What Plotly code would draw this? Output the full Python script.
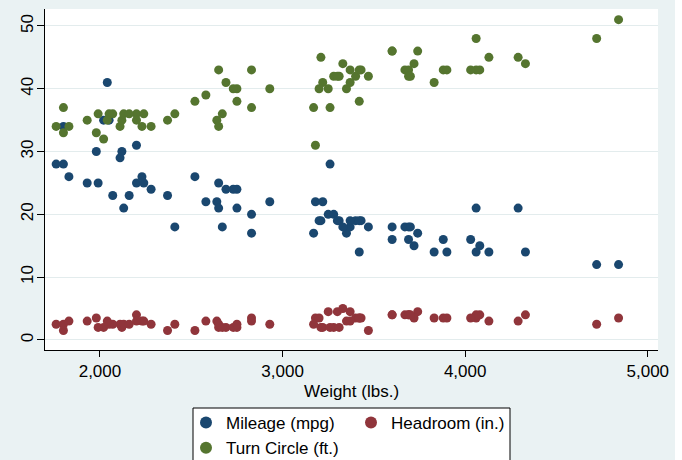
import plotly.graph_objects as go

# auto.dta: weight, mpg, headroom, turn
weight = [2930, 3350, 2640, 3250, 4080, 3670, 2230, 3280, 3880, 3400,
          4330, 3900, 4290, 2110, 3690, 3180, 3220, 2750, 3430, 2120,
          3600, 3600, 3740, 1800, 2650, 4840, 4720, 3830, 2580, 4060,
          3720, 3370, 4130, 2830, 4060, 3310, 3300, 3690, 3370, 2730,
          4030, 3260, 1800, 2200, 2520, 3330, 3700, 3470, 3210, 3200,
          3420, 2690, 2830, 2070, 2650, 2370, 2020, 2280, 2750, 2130,
          2240, 1760, 1980, 3420, 1830, 2050, 2410, 2200, 2670, 2160,
          2040, 1930, 1990, 3170]
mpg = [22, 17, 22, 20, 15, 18, 26, 20, 16, 19,
       14, 14, 21, 29, 16, 22, 22, 24, 19, 30,
       18, 16, 17, 28, 21, 12, 12, 14, 22, 14,
       15, 18, 14, 20, 21, 19, 19, 18, 19, 24,
       16, 28, 34, 25, 26, 18, 18, 18, 19, 19,
       19, 24, 17, 23, 25, 23, 35, 24, 21, 21,
       25, 28, 30, 14, 26, 35, 18, 31, 18, 23,
       41, 25, 25, 17]
headroom = [2.5, 3.0, 3.0, 4.5, 4.0, 4.0, 3.0, 2.0, 3.5, 3.5,
            4.0, 3.5, 3.0, 2.5, 4.0, 3.5, 2.0, 2.0, 3.5, 2.0,
            4.0, 4.0, 4.5, 1.5, 2.0, 3.5, 2.5, 3.5, 3.0, 3.5,
            3.5, 3.0, 3.0, 3.5, 4.0, 2.0, 4.5, 4.0, 4.5, 2.0,
            3.5, 2.0, 2.5, 4.0, 1.5, 5.0, 4.0, 1.5, 2.0, 3.5,
            3.5, 2.0, 3.0, 2.5, 2.5, 1.5, 2.0, 2.5, 2.5, 2.5,
            3.0, 2.5, 3.5, 3.5, 3.0, 2.5, 2.5, 3.0, 2.0, 2.5,
            3.0, 3.0, 2.0, 2.5]
turn = [40, 40, 35, 40, 43, 43, 34, 42, 43, 42,
        44, 43, 45, 34, 43, 31, 41, 40, 43, 35,
        46, 46, 46, 33, 43, 51, 48, 41, 39, 48,
        44, 41, 45, 43, 43, 42, 42, 42, 43, 40,
        43, 37, 37, 36, 38, 44, 42, 42, 45, 40,
        43, 41, 37, 36, 34, 35, 32, 34, 38, 36,
        36, 34, 33, 38, 34, 36, 36, 35, 36, 36,
        35, 35, 36, 37]

x_ticks = [2000, 3000, 4000, 5000]
y_ticks = [0, 10, 20, 30, 40, 50]

BG = '#eaf2f3'
FONT = 'Liberation Sans, Arial, sans-serif'

# plot area in pixels (for paper-coordinate placement)
W, H = 682, 460
L, R, T, B = 45, 24, 9, 110
pw, ph = W - L - R, H - T - B


def px_x(p):
    return (p - L) / pw


def px_y(p):
    return (H - B - p) / ph


fig = go.Figure()

series = [
    ('Mileage (mpg)', mpg, '#1a476f', 'legend'),
    ('Headroom (in.)', headroom, '#90353b', 'legend2'),
    ('Turn Circle (ft.)', turn, '#55752f', 'legend'),
]
for name, ys, color, leg in series:
    fig.add_trace(go.Scatter(
        x=weight, y=ys, mode='markers', name=name,
        marker=dict(color=color, size=9, line_width=0),
        legend=leg,
    ))

fig.update_xaxes(
    range=[1699, 5056], tickvals=x_ticks, tickformat=',',
    showgrid=False, zeroline=False, automargin=False,
    showline=True, linecolor='#000000', linewidth=1,
    ticks='outside', ticklen=6, tickcolor='#000000',
    tickfont=dict(size=17, color='#000000'),
    title=dict(text='Weight (lbs.)', font=dict(size=17, color='#000000'), standoff=4),
)
fig.update_yaxes(
    range=[-1.6, 52.7], tickvals=y_ticks, tickangle=-90,
    showgrid=True, gridcolor='#e3eced', gridwidth=1, zeroline=False,
    automargin=False,
    showline=True, linecolor='#000000', linewidth=1,
    ticks='outside', ticklen=7, tickcolor='#000000',
    ticklabelstandoff=-3,
    tickfont=dict(size=17, color='#000000'),
)

# legends placed in container coordinates so they don't push the margins
leg_common = dict(
    bgcolor='rgba(0,0,0,0)', borderwidth=0,
    font=dict(size=17, color='#000000', family=FONT),
    orientation='v', yanchor='top', xanchor='left',
    xref='container', yref='container',
    itemsizing='constant', tracegroupgap=0,
)
fig.update_layout(
    width=W, height=H,
    paper_bgcolor=BG, plot_bgcolor='#ffffff',
    font=dict(family=FONT, color='#000000'),
    margin=dict(l=L, r=R, t=T, b=B, pad=0, autoexpand=False),
    showlegend=True,
    legend=dict(x=186 / W, y=1 - 405 / H, **leg_common),
    legend2=dict(x=351 / W, y=1 - 405 / H, **leg_common),
    shapes=[
        # legend frame
        dict(type='rect', xref='paper', yref='paper',
             x0=px_x(193), x1=px_x(510), y0=px_y(470), y1=px_y(408),
             line=dict(color='#000000', width=1), fillcolor='#ffffff',
             layer='below'),
        # white strip at the right edge of the image
        dict(type='rect', xref='paper', yref='paper',
             x0=px_x(675), x1=px_x(690), y0=px_y(470), y1=px_y(-5),
             line_width=0, fillcolor='#ffffff', layer='above'),
    ],
)

fig.write_html("out.html", config={'displayModeBar': False},
               post_script="document.body.style.margin='0';")
